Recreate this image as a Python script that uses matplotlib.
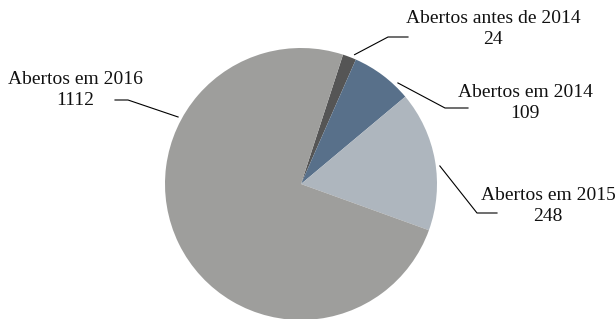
import matplotlib.pyplot as plt
import numpy as np

labels = ["Abertos antes de 2014", "Abertos em 2014", "Abertos em 2015", "Abertos em 2016"]
values = [24, 109, 248, 1112]
colors = ["#555555", "#58708a", "#aeb6be", "#9e9e9c"]

plt.rcParams['font.family'] = ['Liberation Serif', 'DejaVu Serif']

W, H = 615, 319
fig = plt.figure(figsize=(W / 100, H / 100), dpi=100)
ax = fig.add_axes([0, 0, 1, 1])

cx, cy, r = 301, H - 184, 136
wedges, _ = ax.pie(values, colors=colors, startangle=72, counterclock=False,
                   center=(cx, cy), radius=r, frame=True,
                   wedgeprops=dict(linewidth=0))
ax.set_xlim(0, W)
ax.set_ylim(0, H)
ax.set_aspect('equal')
ax.axis('off')

# leader line layout: angle on the rim (deg, ccw from +x), elbow, end of line, text centre
leaders = [
    (67.5, (388, H - 37), (408, H - 37), (493, H - 29)),
    (46.2, (445, H - 108), (468, H - 108), (525, H - 103)),
    (7.4, (477, H - 213), (497, H - 213), (548, H - 206)),
    (151.4, (128, H - 100), (115, H - 100), (75, H - 90)),
]

for lab, val, (ang, elbow, end, txt) in zip(labels, values, leaders):
    a = np.deg2rad(ang)
    x0 = cx + (r + 4) * np.cos(a)
    y0 = cy + (r + 4) * np.sin(a)
    ax.plot([x0, elbow[0], end[0]], [y0, elbow[1], end[1]], color="black", lw=0.8)
    ax.text(txt[0], txt[1], f"{lab}\n{val}", ha="center", va="center",
            fontsize=14, linespacing=1.25, color="#111111")

fig.savefig("out.png", dpi=100)
